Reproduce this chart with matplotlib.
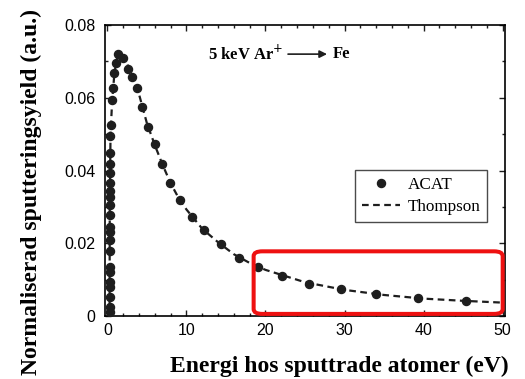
import matplotlib.pyplot as plt
from matplotlib.patches import FancyBboxPatch
from matplotlib.ticker import MultipleLocator

# ACAT simulation points (energy in eV, normalised yield)
acat_e = [0.30, 0.30, 0.30, 0.30, 0.30, 0.30, 0.30, 0.30, 0.30, 0.30,
          0.30, 0.30, 0.30, 0.30, 0.30, 0.30, 0.30, 0.30, 0.32,
          0.38, 0.50, 0.63, 0.75, 0.88, 1.13, 1.38, 2.0, 2.64, 3.14,
          3.77, 4.4, 5.15, 6.0, 6.9, 7.9, 9.2, 10.7, 12.2, 14.4, 16.6,
          19.1, 22.1, 25.5, 29.5, 34.0, 39.3, 45.3]
acat_y = [0.0011, 0.0025, 0.0052, 0.0079, 0.0093, 0.0120, 0.0134, 0.0180,
          0.0208, 0.0230, 0.0244, 0.0277, 0.0304, 0.0326, 0.0345, 0.0367,
          0.0392, 0.0419, 0.0449,
          0.0496, 0.0526, 0.0595, 0.0627, 0.0668, 0.0696, 0.0720, 0.0710,
          0.0680, 0.0658, 0.0627, 0.0575, 0.0520, 0.0474, 0.0419, 0.0367,
          0.0320, 0.0271, 0.0236, 0.0197, 0.0159, 0.0134, 0.0110, 0.0088,
          0.0074, 0.0060, 0.0049, 0.0041]

# Thompson distribution
thompson_e = [0.28, 0.30, 0.40, 0.60, 0.90, 1.3, 1.7, 2.3, 3.0, 4.0, 5.0,
              6.0, 7.0, 8.0, 9.0, 10, 12, 14, 16, 18, 20, 25, 30, 35, 40,
              45, 50]
thompson_y = [0.0, 0.030, 0.050, 0.059, 0.067, 0.0715, 0.0722, 0.0705,
              0.0665, 0.0610, 0.0530, 0.0470, 0.0415, 0.0365, 0.0325,
              0.0293, 0.0240, 0.0203, 0.0170, 0.0146, 0.0127, 0.0093,
              0.0072, 0.0058, 0.0048, 0.0042, 0.0037]

INK = "#1e1e1e"
SERIF = ["Liberation Serif", "DejaVu Serif"]

plt.rcParams.update({
    "font.family": ["Liberation Sans", "DejaVu Sans"],
    "font.size": 11,
    "axes.linewidth": 1.2,
})

fig = plt.figure(figsize=(5.25, 3.79), dpi=100)
ax = fig.add_axes([0.2, 0.166, 0.762, 0.768])

ax.plot(thompson_e, thompson_y, linestyle=(0, (3, 2)), color=INK,
        linewidth=1.6, label="Thompson", zorder=2)
ax.plot(acat_e, acat_y, linestyle="none", marker="o", markersize=5.8,
        color=INK, label="ACAT", zorder=3)

ax.set_xlim(-0.3, 50.3)
ax.set_ylim(0, 0.08)
ax.set_xticks([0, 10, 20, 30, 40, 50])
ax.set_yticks([0, 0.02, 0.04, 0.06, 0.08])
ax.set_yticklabels(["0", "0.02", "0.04", "0.06", "0.08"])
ax.xaxis.set_minor_locator(MultipleLocator(2))
ax.yaxis.set_minor_locator(MultipleLocator(0.01))
ax.tick_params(which="both", direction="in", top=True, right=True,
               color=INK, width=1)
ax.tick_params(which="major", length=4, labelsize=11.5)
ax.tick_params(axis="y", which="major", pad=7)
ax.tick_params(axis="x", which="major", pad=5)
ax.tick_params(which="minor", length=2)

fig.text(339 / 525, 1 - 366 / 379, "Energi hos sputtrade atomer (eV)",
         family=SERIF, fontweight="bold", fontsize=17, ha="center",
         va="center")
fig.text(31 / 525, 1 - 192 / 379, "Normaliserad sputteringsyield (a.u.)",
         family=SERIF, fontweight="bold", fontsize=17, ha="center",
         va="center", rotation=90)

handles, labels = ax.get_legend_handles_labels()
leg = ax.legend(handles[::-1], labels[::-1], loc="upper right",
                bbox_to_anchor=(0.955, 0.502), borderaxespad=0,
                frameon=True, fancybox=False, edgecolor=INK,
                handlelength=2.2, handletextpad=0.45, borderpad=0.4,
                labelspacing=0.35,
                prop={"family": SERIF, "size": 12.3})
leg.get_frame().set_linewidth(1.0)

ax.text(0.2575, 0.90, "5 keV Ar$^{+}$", transform=ax.transAxes,
        family=SERIF, fontweight="bold", fontsize=12, va="center",
        ha="left")
ax.annotate("", xy=(0.555, 0.90), xytext=(0.4575, 0.90),
            xycoords="axes fraction",
            arrowprops=dict(arrowstyle="-|>", color=INK, lw=1.2,
                            mutation_scale=11, shrinkA=0, shrinkB=0))
ax.text(0.57, 0.90, "Fe", transform=ax.transAxes, family=SERIF,
        fontweight="bold", fontsize=12, va="center", ha="left")

box = FancyBboxPatch((18.5, 0.0006), 31.5, 0.0172,
                     boxstyle="round,pad=0,rounding_size=1.1",
                     mutation_aspect=0.0012, fill=False, edgecolor="#ee1111",
                     linewidth=2.9, transform=ax.transData, clip_on=False,
                     zorder=5)
ax.add_patch(box)

fig.savefig("out.png", dpi=100)
